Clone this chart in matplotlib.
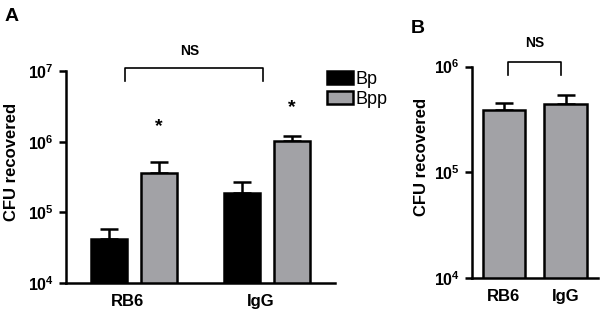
import numpy as np
import matplotlib
matplotlib.use('Agg')
import matplotlib.pyplot as plt
from matplotlib.patches import Patch
from matplotlib.ticker import FixedLocator, FuncFormatter, NullLocator

plt.rcParams['font.family'] = ['Liberation Sans', 'DejaVu Sans']
plt.rcParams['mathtext.fontset'] = 'custom'
plt.rcParams['mathtext.rm'] = 'Liberation Sans:bold'
plt.rcParams['mathtext.bf'] = 'Liberation Sans:bold'

# データ (パネルA)
groups = ['RB6', 'IgG']
bp_mean = [4.2e4, 1.9e5]
bp_top = [5.9e4, 2.7e5]
bpp_mean = [3.6e5, 1.03e6]
bpp_top = [5.2e5, 1.2e6]

# データ (パネルB)
b_mean = [3.9e5, 4.4e5]
b_top = [4.5e5, 5.4e5]

black = '#000000'
gray = '#a2a2a6'
lw = 1.8

fig = plt.figure(figsize=(6.04, 3.15), dpi=100)
axA = fig.add_axes([0.110, 0.1016, 0.4445, 0.673])
axB = fig.add_axes([0.782, 0.1175, 0.208, 0.671])


def style(ax, lo, hi):
    ax.set_yscale('log')
    ax.set_ylim(lo, hi)
    ax.spines['top'].set_visible(False)
    ax.spines['right'].set_visible(False)
    ax.spines['left'].set_linewidth(lw)
    ax.spines['bottom'].set_linewidth(lw)
    ticks = [10.0 ** k for k in range(int(np.log10(lo)), int(np.log10(hi)) + 1)]
    ax.yaxis.set_major_locator(FixedLocator(ticks))
    ax.yaxis.set_minor_locator(NullLocator())
    ax.yaxis.set_major_formatter(FuncFormatter(
        lambda v, p: r'$\mathbf{10^{%d}}$' % round(np.log10(v))))
    ax.tick_params(axis='y', length=5, width=lw, pad=4, labelsize=11.5)
    ax.tick_params(axis='x', length=0, pad=8, labelsize=12)
    for t in ax.get_xticklabels():
        t.set_fontweight('bold')


def bars(ax, x, mean, top, color, width):
    err = np.array(top) - np.array(mean)
    ax.errorbar(x, mean, yerr=[np.zeros(len(mean)), err], fmt='none',
                ecolor=black, elinewidth=lw, capsize=6.5, capthick=lw, zorder=1)
    ax.bar(x, mean, width=width, bottom=1, color=color, edgecolor=black,
           linewidth=lw, zorder=2)


# パネルA
x = np.arange(len(groups))
off = 0.188
wA = 0.267
bars(axA, x - off, bp_mean, bp_top, black, wA)
bars(axA, x + off, bpp_mean, bpp_top, gray, wA)
axA.set_xlim(-0.51, 1.51)
style(axA, 1e4, 1e7)
axA.set_xticks(x - 0.05)
axA.set_xticklabels(groups, fontweight='bold')

# 括弧と有意差
axA.plot([-0.07, -0.07, 0.97, 0.97], [7.2e6, 1.1e7, 1.1e7, 7.2e6],
         color=black, lw=1.2, clip_on=False)
axA.text(0.42, 1.9e7, 'NS', ha='center', va='center', fontsize=10,
         fontweight='bold')
axA.text(x[0] + off, 1.65e6, '*', ha='center', va='center', fontsize=14,
         fontweight='bold')
axA.text(x[1] + off, 3.0e6, '*', ha='center', va='center', fontsize=14,
         fontweight='bold')

handles = [Patch(facecolor=black, edgecolor=black, linewidth=lw, label='Bp'),
           Patch(facecolor=gray, edgecolor=black, linewidth=lw, label='Bpp')]
fig.legend(handles=handles, loc='upper left', bbox_to_anchor=(327 / 604, 1 - 71 / 315),
           frameon=False, fontsize=13, handlelength=1.45, handleheight=0.75,
           handletextpad=0.15, labelspacing=0.15, borderpad=0, borderaxespad=0)

# パネルB
xb = np.arange(len(groups))
bars(axB, xb, b_mean, b_top, gray, 0.69)
axB.set_xlim(-0.51, 1.52)
style(axB, 1e4, 1e6)
axB.set_xticks(xb)
axB.set_xticklabels(groups, fontweight='bold')
axB.plot([0.06, 0.06, 0.92, 0.92], [8.3e5, 1.11e6, 1.11e6, 8.3e5],
         color=black, lw=1.2, clip_on=False)
axB.text(0.49, 1.67e6, 'NS', ha='center', va='center', fontsize=10,
         fontweight='bold')

fig.text(12 / 604, 0.487, 'CFU recovered', rotation=90, ha='center', va='center',
         fontsize=12, fontweight='bold')
fig.text(422 / 604, 0.503, 'CFU recovered', rotation=90, ha='center', va='center',
         fontsize=12, fontweight='bold')
fig.text(5 / 604, 1 - 21 / 315, 'A', fontsize=14, fontweight='bold')
fig.text(411 / 604, 1 - 33 / 315, 'B', fontsize=14, fontweight='bold')

fig.savefig('out.png', dpi=100)
